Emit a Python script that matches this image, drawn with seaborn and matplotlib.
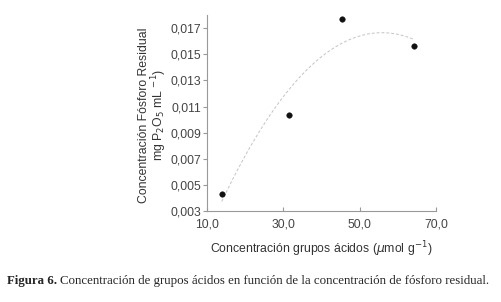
import numpy as np
import pandas as pd
import seaborn as sns
import matplotlib.pyplot as plt

# datos
acid_groups = [13.9, 31.4, 45.4, 64.1]
residual_p = [0.00428, 0.01037, 0.0177, 0.01565]
x_ticks = [10, 30, 50, 70]
y_ticks = [0.003, 0.005, 0.007, 0.009, 0.011, 0.013, 0.015, 0.017]

df = pd.DataFrame({"x": acid_groups, "y": residual_p})

sns.set_style("white")
plt.rcParams["font.family"] = ["Liberation Sans", "DejaVu Sans"]

fig = plt.figure(figsize=(5.02, 3.02), dpi=100)
ax = fig.add_axes([0.412, 0.301, 0.457, 0.649])

# linea de tendencia polinomica (orden 2)
coef = np.polyfit(df["x"], df["y"], 2)
xs = np.linspace(df["x"].min(), df["x"].max(), 100)
ax.plot(xs, np.polyval(coef, xs), color="#c4c4c4", lw=0.7, ls=(0, (3, 2)))

sns.scatterplot(data=df, x="x", y="y", ax=ax, color="#111111", s=16,
                edgecolor="#111111", zorder=3)

ax.set_xlim(10, 70)
ax.set_ylim(0.003, 0.018)
ax.set_xticks(x_ticks)
ax.set_xticklabels([f"{t:.1f}".replace(".", ",") for t in x_ticks])
ax.set_yticks(y_ticks)
ax.set_yticklabels([f"{t:.3f}".replace(".", ",") for t in y_ticks])
ax.tick_params(axis="both", labelsize=8.7, colors="#444444", length=3,
               color="#999999")
ax.tick_params(axis="y", direction="out", left=True, pad=1)
ax.tick_params(axis="x", direction="in", bottom=True, pad=5)

for s in ["top", "right"]:
    ax.spines[s].set_visible(False)
for s in ["left", "bottom"]:
    ax.spines[s].set_color("#999999")
    ax.spines[s].set_linewidth(0.8)

ax.set_xlabel("Concentración grupos ácidos ($\\mu$mol g$^{-1}$)",
              fontsize=8.8, color="#333333")
ax.xaxis.set_label_coords(0.5, -0.143)
ax.set_ylabel("Concentración Fósforo Residual\nmg P$_2$O$_5$ mL $^{-1}$)",
              fontsize=8.8, color="#333333", linespacing=0.92)
ax.yaxis.set_label_coords(-0.165, 0.49)

fig.text(0.014, 0.07, "Figura 6.", fontsize=9.3, fontweight="bold",
         family="Liberation Serif", va="center")
fig.text(0.119, 0.07,
         "Concentración de grupos ácidos en función de la concentración de fósforo residual.",
         fontsize=9.3, family="Liberation Serif", va="center")

fig.savefig("out.png", dpi=100)
